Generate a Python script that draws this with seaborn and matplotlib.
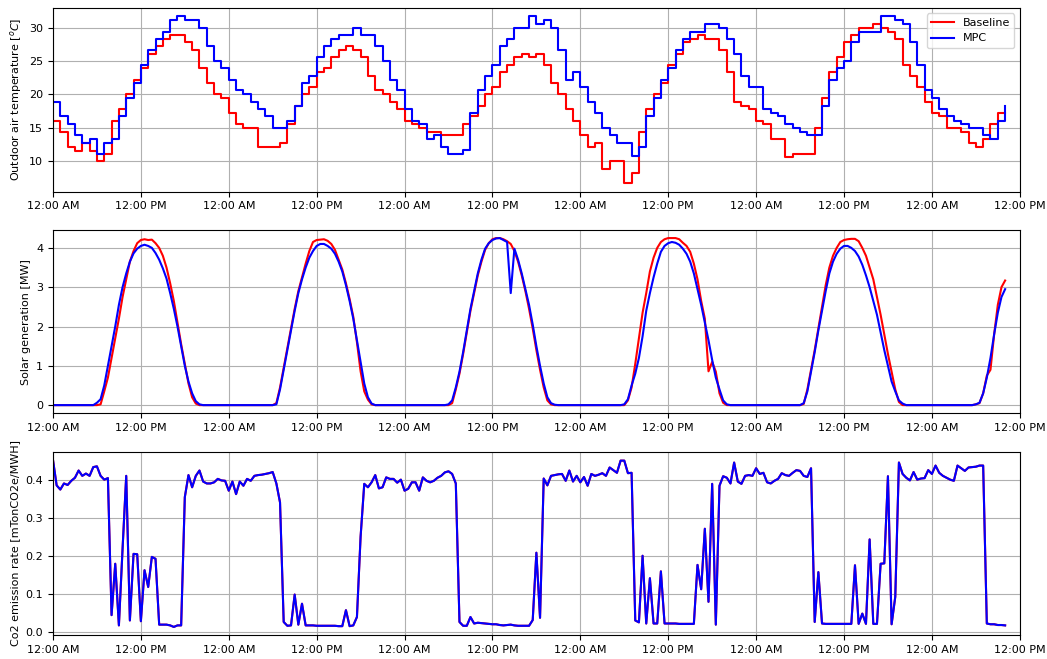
import numpy as np
import pandas as pd
import matplotlib
matplotlib.use("Agg")
import matplotlib.pyplot as plt
import matplotlib.dates as mdates
import seaborn as sns

plt.rcParams["font.size"] = 8
plt.rcParams["font.family"] = ["DejaVu Sans"]

START = "2019-07-01 00:00"

# Outdoor air temperature [C], hourly
temp_baseline = [
    16.1, 14.4, 12.2, 11.6, 12.8, 11.6, 10.0, 11.1, 16.1, 17.8, 20.0, 22.2,
    23.9, 26.1, 27.2, 28.3, 28.9, 28.9, 27.8, 26.7, 23.9, 21.7, 20.0, 19.4,
    17.2, 15.6, 15.0, 15.0, 12.2, 12.2, 12.2, 12.8, 15.6, 18.3, 20.0, 21.1,
    23.3, 23.9, 25.6, 26.7, 27.2, 26.7, 25.6, 22.8, 20.6, 20.0, 18.9, 17.8,
    16.1, 15.6, 15.0, 14.4, 14.4, 13.9, 13.9, 13.9, 15.6, 16.7, 18.3, 20.0,
    21.1, 23.3, 24.4, 25.6, 26.1, 25.6, 26.1, 24.4, 21.7, 20.0, 17.8, 16.1,
    13.9, 12.2, 12.8, 8.9, 10.0, 10.0, 6.7, 8.3, 14.4, 17.8, 20.0, 21.7,
    24.4, 26.1, 27.8, 28.3, 28.9, 28.3, 28.3, 26.7, 23.3, 18.9, 18.3, 17.8,
    16.1, 15.6, 13.3, 13.3, 10.6, 11.1, 11.1, 11.1, 15.0, 19.4, 23.3, 25.6,
    27.8, 28.9, 30.0, 30.0, 30.6, 30.0, 29.4, 28.3, 24.4, 22.8, 21.1, 18.9,
    17.2, 16.7, 15.0, 15.0, 14.4, 12.8, 12.2, 13.3, 15.6, 17.2, 17.2,
]
temp_mpc = [
    18.9, 16.7, 15.6, 13.9, 12.8, 13.3, 11.1, 12.8, 13.3, 16.7, 19.4, 21.7,
    24.4, 26.7, 28.3, 29.4, 31.1, 31.7, 31.1, 31.1, 30.0, 27.2, 25.0, 23.9,
    22.2, 20.6, 20.0, 18.9, 17.8, 16.7, 15.0, 15.0, 16.1, 18.3, 21.7, 22.8,
    25.6, 27.2, 28.3, 28.9, 28.9, 30.0, 28.9, 28.9, 27.2, 25.0, 22.2, 20.6,
    17.8, 16.1, 15.6, 13.3, 13.9, 12.2, 11.1, 11.1, 11.7, 17.2, 20.6, 22.8,
    24.4, 27.2, 28.3, 30.0, 30.0, 31.7, 30.6, 31.1, 30.0, 26.7, 22.2, 23.3,
    21.1, 18.9, 17.2, 15.0, 13.9, 12.8, 12.8, 10.8, 12.2, 16.7, 19.4, 22.2,
    23.9, 26.7, 28.3, 29.4, 29.4, 30.6, 30.6, 30.0, 28.3, 26.1, 22.8, 21.1,
    21.1, 17.8, 17.2, 16.7, 15.6, 15.0, 14.4, 13.9, 13.9, 18.3, 22.2, 23.9,
    25.0, 27.8, 29.4, 29.4, 29.4, 31.7, 31.7, 31.1, 30.6, 27.8, 24.4, 20.6,
    19.4, 17.8, 16.7, 16.1, 15.6, 15.0, 15.0, 13.9, 13.3, 16.1, 18.3,
]

# Solar generation [MW], every 30 minutes
solar_baseline = [
    0, 0, 0, 0, 0, 0, 0, 0, 0, 0, 0, 0, 0, 0.02, 0.35, 0.7, 1.2, 1.7, 2.2, 2.75, 3.2, 3.65, 3.92, 4.12,
    4.2, 4.22, 4.2, 4.21, 4.12, 4.0, 3.8, 3.5, 3.1, 2.65, 2.1, 1.55, 1.05, 0.55, 0.2, 0.04, 0, 0, 0, 0, 0, 0, 0, 0,
    0, 0, 0, 0, 0, 0, 0, 0, 0, 0, 0, 0, 0, 0.05, 0.45, 0.95, 1.45, 1.95, 2.45, 2.9, 3.25, 3.6, 3.92, 4.15,
    4.2, 4.21, 4.22, 4.18, 4.1, 3.95, 3.7, 3.45, 3.1, 2.7, 2.25, 1.6, 0.86, 0.35, 0.14, 0.02, 0, 0, 0, 0, 0, 0, 0, 0,
    0, 0, 0, 0, 0, 0, 0, 0, 0, 0, 0, 0, 0, 0.05, 0.4, 0.8, 1.3, 1.85, 2.4, 2.85, 3.3, 3.65, 3.95, 4.12,
    4.22, 4.25, 4.25, 4.22, 4.17, 4.1, 3.92, 3.65, 3.3, 2.9, 2.45, 1.95, 1.4, 0.9, 0.45, 0.12, 0.02, 0, 0, 0, 0, 0, 0, 0,
    0, 0, 0, 0, 0, 0, 0, 0, 0, 0, 0, 0, 0, 0.12, 0.45, 1.05, 1.7, 2.35, 2.85, 3.4, 3.75, 4.0, 4.15, 4.22,
    4.25, 4.25, 4.25, 4.22, 4.13, 4.05, 3.9, 3.6, 3.2, 2.65, 2.2, 0.86, 1.1, 0.85, 0.3, 0.06, 0, 0, 0, 0, 0, 0, 0, 0,
    0, 0, 0, 0, 0, 0, 0, 0, 0, 0, 0, 0, 0, 0.03, 0.4, 0.9, 1.4, 1.95, 2.5, 3.05, 3.5, 3.8, 4.0, 4.15,
    4.2, 4.22, 4.23, 4.23, 4.17, 4.0, 3.8, 3.5, 3.2, 2.75, 2.3, 1.8, 1.3, 0.85, 0.4, 0.08, 0, 0, 0, 0, 0, 0, 0, 0,
    0, 0, 0, 0, 0, 0, 0, 0, 0, 0, 0, 0, 0.02, 0.05, 0.3, 0.75, 0.9, 1.8, 2.55, 3.0, 3.17,
]
solar_mpc = [
    0, 0, 0, 0, 0, 0, 0, 0, 0, 0, 0, 0, 0.06, 0.15, 0.5, 1.0, 1.5, 2.0, 2.55, 3.0, 3.35, 3.65, 3.86, 3.98,
    4.05, 4.08, 4.05, 4.0, 3.87, 3.7, 3.48, 3.22, 2.85, 2.45, 2.0, 1.5, 1.0, 0.6, 0.3, 0.1, 0.02, 0, 0, 0, 0, 0, 0, 0,
    0, 0, 0, 0, 0, 0, 0, 0, 0, 0, 0, 0, 0, 0.02, 0.4, 0.9, 1.4, 1.9, 2.4, 2.85, 3.2, 3.5, 3.75, 3.92,
    4.05, 4.1, 4.1, 4.05, 3.98, 3.85, 3.65, 3.4, 3.05, 2.65, 2.2, 1.65, 1.1, 0.55, 0.2, 0.04, 0, 0, 0, 0, 0, 0, 0, 0,
    0, 0, 0, 0, 0, 0, 0, 0, 0, 0, 0, 0, 0.02, 0.12, 0.45, 0.85, 1.35, 1.9, 2.45, 2.9, 3.35, 3.7, 3.98, 4.12,
    4.2, 4.24, 4.25, 4.2, 4.15, 2.85, 3.98, 3.7, 3.35, 2.95, 2.55, 2.05, 1.5, 1.0, 0.55, 0.2, 0.05, 0.01, 0, 0, 0, 0, 0, 0,
    0, 0, 0, 0, 0, 0, 0, 0, 0, 0, 0, 0, 0.02, 0.15, 0.5, 0.8, 1.2, 1.75, 2.4, 2.85, 3.25, 3.6, 3.9, 4.05,
    4.12, 4.15, 4.13, 4.08, 3.98, 3.85, 3.65, 3.35, 2.95, 2.55, 2.1, 1.65, 1.15, 0.7, 0.4, 0.12, 0.02, 0, 0, 0, 0, 0, 0, 0,
    0, 0, 0, 0, 0, 0, 0, 0, 0, 0, 0, 0, 0, 0.05, 0.35, 0.85, 1.35, 1.9, 2.4, 2.9, 3.35, 3.65, 3.85, 3.98,
    4.05, 4.05, 4.0, 3.92, 3.78, 3.57, 3.3, 3.0, 2.65, 2.3, 1.85, 1.4, 1.0, 0.6, 0.35, 0.12, 0.04, 0, 0, 0, 0, 0, 0, 0,
    0, 0, 0, 0, 0, 0, 0, 0, 0, 0, 0, 0, 0.02, 0.06, 0.3, 0.7, 1.2, 1.8, 2.35, 2.75, 2.95,
]

# Grid CO2e emission rate [mTonCO2e/MWh], every 30 minutes (same signal for both runs)
co2_baseline = [
    0.452, 0.385, 0.374, 0.39, 0.386, 0.397, 0.405, 0.424, 0.41, 0.416, 0.41, 0.433,
    0.435, 0.41, 0.40, 0.404, 0.044, 0.179, 0.017, 0.218, 0.41, 0.03, 0.205, 0.204,
    0.028, 0.162, 0.118, 0.197, 0.192, 0.019, 0.019, 0.019, 0.017, 0.013, 0.017, 0.017,
    0.354, 0.412, 0.38, 0.41, 0.424, 0.395, 0.39, 0.39, 0.393, 0.402, 0.398, 0.397,
    0.371, 0.395, 0.362, 0.395, 0.384, 0.402, 0.397, 0.41, 0.412, 0.413, 0.415, 0.417,
    0.42, 0.39, 0.34, 0.026, 0.016, 0.017, 0.098, 0.019, 0.074, 0.017, 0.017, 0.017,
    0.016, 0.016, 0.016, 0.016, 0.016, 0.016, 0.015, 0.015, 0.057, 0.015, 0.017, 0.039,
    0.25, 0.389, 0.38, 0.393, 0.412, 0.377, 0.38, 0.406, 0.402, 0.402, 0.392, 0.40,
    0.371, 0.376, 0.393, 0.393, 0.371, 0.406, 0.397, 0.393, 0.397, 0.405, 0.41, 0.419,
    0.422, 0.415, 0.39, 0.026, 0.016, 0.016, 0.039, 0.022, 0.024, 0.023, 0.022, 0.021,
    0.020, 0.020, 0.018, 0.017, 0.018, 0.019, 0.017, 0.016, 0.016, 0.016, 0.016, 0.031,
    0.208, 0.037, 0.403, 0.385, 0.41, 0.412, 0.414, 0.415, 0.397, 0.424, 0.395, 0.41,
    0.393, 0.407, 0.384, 0.415, 0.41, 0.413, 0.417, 0.41, 0.432, 0.425, 0.418, 0.45,
    0.45, 0.417, 0.418, 0.03, 0.025, 0.2, 0.022, 0.141, 0.022, 0.022, 0.159, 0.022,
    0.022, 0.022, 0.022, 0.021, 0.021, 0.021, 0.021, 0.021, 0.176, 0.112, 0.271, 0.079,
    0.389, 0.019, 0.384, 0.409, 0.405, 0.39, 0.445, 0.395, 0.389, 0.41, 0.412, 0.41,
    0.43, 0.415, 0.418, 0.393, 0.39, 0.397, 0.402, 0.417, 0.412, 0.41, 0.418, 0.425,
    0.423, 0.41, 0.407, 0.43, 0.026, 0.157, 0.022, 0.021, 0.021, 0.021, 0.021, 0.021,
    0.021, 0.021, 0.021, 0.175, 0.021, 0.048, 0.021, 0.243, 0.021, 0.021, 0.179, 0.18,
    0.409, 0.02, 0.092, 0.445, 0.415, 0.405, 0.398, 0.42, 0.4, 0.403, 0.404, 0.425,
    0.415, 0.437, 0.418, 0.41, 0.405, 0.4, 0.397, 0.437, 0.43, 0.423, 0.432, 0.433,
    0.434, 0.437, 0.437, 0.022, 0.02, 0.02, 0.018, 0.018, 0.017,
]
co2_mpc = co2_baseline

series_labels = ["Baseline", "MPC"]
series_colors = ["red", "blue"]

temp_time = pd.date_range(START, periods=len(temp_baseline), freq="h")
half_time = pd.date_range(START, periods=len(solar_baseline), freq="30min")

fig, axes = plt.subplots(3, 1, figsize=(10.47, 6.59), dpi=100)
fig.subplots_adjust(left=0.0506, right=0.974, top=0.988, bottom=0.036, hspace=0.207)

ax = axes[0]
for vals, lab, col in zip([temp_baseline, temp_mpc], series_labels, series_colors):
    sns.lineplot(x=temp_time, y=vals, ax=ax, color=col, label=lab,
                 drawstyle="steps-post", estimator=None, linewidth=1.5)
ax.set_ylabel(r"Outdoor air temperature [$^oC$]")
ax.legend(loc="upper right")

ax = axes[1]
for vals, col in zip([solar_baseline, solar_mpc], series_colors):
    sns.lineplot(x=half_time, y=vals, ax=ax, color=col, estimator=None,
                 linewidth=1.5, legend=False)
ax.set_ylabel("Solar generation [MW]")

ax = axes[2]
for vals, col in zip([co2_baseline, co2_mpc], series_colors):
    sns.lineplot(x=half_time, y=vals, ax=ax, color=col, estimator=None,
                 linewidth=1.5, legend=False)
ax.set_ylabel("Co2 emission rate [mTonCO2e/MWH]")

x0 = pd.Timestamp(START)
x1 = x0 + pd.Timedelta(hours=132)
for ax in axes:
    ax.set_xlim(x0, x1)
    ax.xaxis.set_major_locator(mdates.HourLocator(byhour=[0, 12]))
    ax.xaxis.set_major_formatter(mdates.DateFormatter("%I:%M %p"))
    ax.grid(True)
    ax.set_xlabel("")

fig.savefig("out.png", dpi=100)
